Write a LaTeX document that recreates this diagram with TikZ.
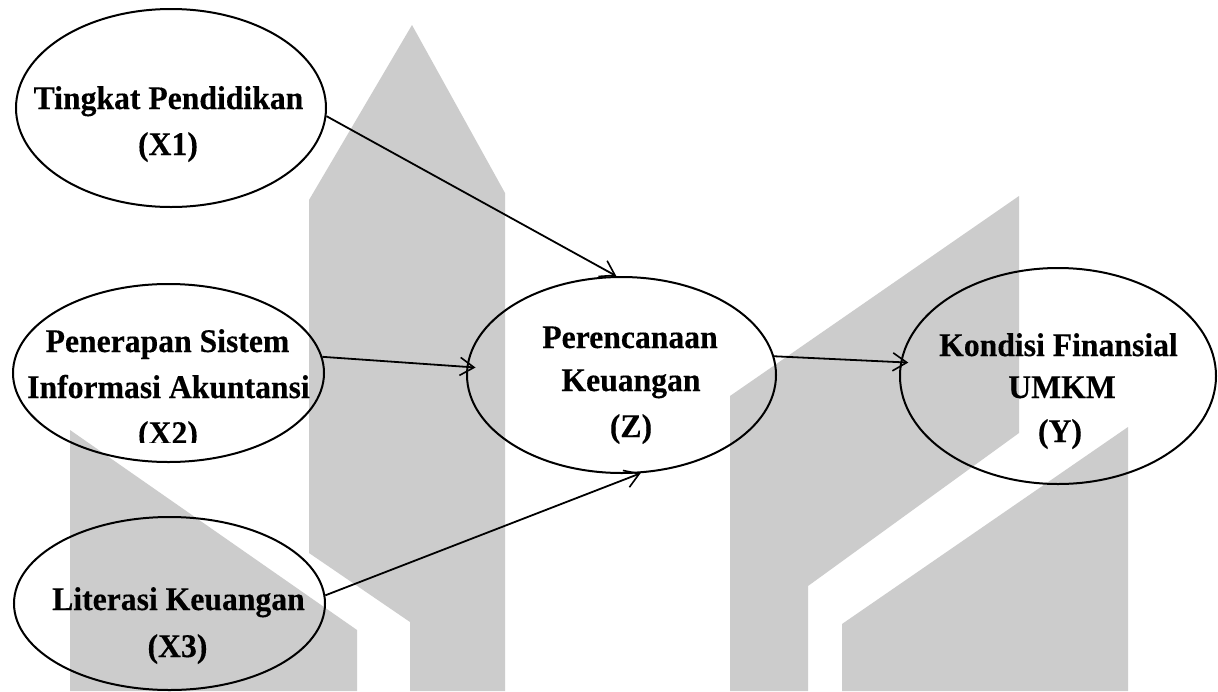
\documentclass[tikz,border=0pt]{standalone}
\usepackage{fontspec}
\setmainfont{Liberation Serif}[FakeStretch=0.96,BoldFeatures={FakeBold=0.3}]
\usetikzlibrary{shapes.geometric,arrows.meta}
\definecolor{wmgray}{RGB}{204,204,204}
\tikzset{
  ell/.style={ellipse,draw=black,line width=2pt,inner sep=0pt},
  txt/.style={font=\bfseries\fontsize{33}{39}\selectfont,inner sep=0pt,anchor=base},
  conn/.style={line width=1.8pt,-{Straight Barb[length=14pt,width=18pt,line width=1.6pt]}},
  wm/.style={fill=wmgray,draw=none}
}
\begin{document}
\begin{tikzpicture}[x=1pt,y=-1pt]
\useasboundingbox (0,0) rectangle (1218,691);
\fill[white] (0,0) rectangle (1218,691);
% watermark shapes
\fill[wm] (412,25) -- (505,193) -- (505,691) -- (410,691) -- (410,622) -- (309,553) -- (309,200) -- cycle;
\fill[wm] (70,430) -- (357,630) -- (357,691) -- (70,691) -- cycle;
\fill[wm] (730,396) -- (1019,196) -- (1019,433) -- (808,586) -- (808,691) -- (730,691) -- cycle;
\fill[wm] (842,624) -- (1128,427) -- (1128,691) -- (842,691) -- cycle;
% ellipses
\node[ell,minimum width=310pt,minimum height=198pt] (x1) at (171,108) {};
\node[ell,minimum width=311pt,minimum height=178pt] (x2) at (168.5,373) {};
\node[ell,minimum width=311pt,minimum height=173pt] (x3) at (169.5,603.5) {};
\node[ell,minimum width=309pt,minimum height=196pt] (z) at (621.5,375) {};
\node[ell,minimum width=316pt,minimum height=216pt] (y) at (1058,376) {};
% texts
\node[txt] (x1a) at (168.5,109) {Tingkat Pendidikan};
\node[txt] (x1b) at (168,155) {(X1)};
\node[txt] (x2a) at (167.5,352) {Penerapan Sistem};
\node[txt] (x2b) at (168.5,398) {Informasi Akuntansi};
\begin{scope}
\clip (0,0) rectangle (1218,442);
\node[txt] (x2c) at (168,444) {(X2)};
\end{scope}
\node[txt] (x3a) at (178.5,610) {Literasi Keuangan};
\node[txt] (x3b) at (177.5,657) {(X3)};
\node[txt] (za) at (630,348) {Perencanaan};
\node[txt] (zb) at (631,391) {Keuangan};
\node[txt] (zc) at (631,437) {(Z)};
\node[txt] (ya) at (1058.5,356) {Kondisi Finansial};
\node[txt] (yb) at (1062,398) {UMKM};
\node[txt] (yc) at (1060,442) {(Y)};
% connectors
\draw[conn] (x1.-3) -- (z.93.5);
\draw[conn,shorten >=-9pt] (x2.6) -- (z.177);
\draw[conn] (x3.3) -- (z.-79);
\draw[conn,shorten >=-8pt] (z.7.4) -- (y.175);
\end{tikzpicture}
\end{document}
